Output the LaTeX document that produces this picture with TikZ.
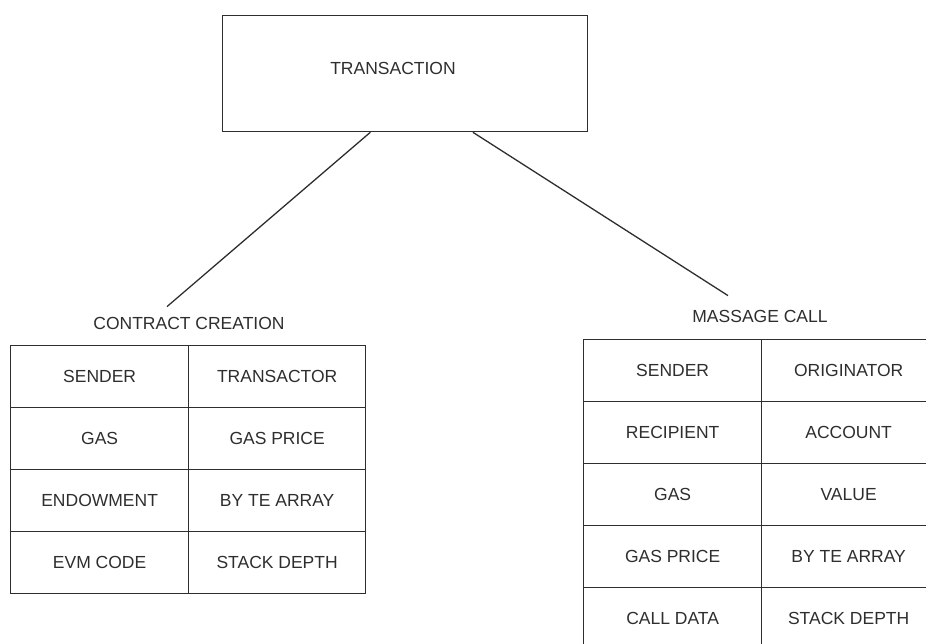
\documentclass[tikz,border=0pt]{standalone}
\usepackage{fontspec}
\setmainfont{Liberation Sans}
\usetikzlibrary{calc}
\definecolor{ink}{HTML}{2E2E2E}
\begin{document}
\begin{tikzpicture}[x=1pt,y=-1pt,
  lbl/.style={text=ink,font=\fontsize{17.5}{20}\selectfont,inner sep=0pt},
  cellA/.style={draw=ink,line width=1.3pt,rectangle,minimum width=178pt,minimum height=62pt,inner sep=0pt,text=ink,font=\fontsize{17.5}{20}\selectfont,anchor=north west},
  link/.style={draw=ink,line width=1.3pt}]
\useasboundingbox (0,0) rectangle (926,644);
\clip (0,0) rectangle (926,644);
% top box
\node[draw=ink,line width=1.3pt,minimum width=365pt,minimum height=116pt,anchor=north west,inner sep=0pt] (tx) at (222,15) {};
\node[lbl] (txl) at (393,68) {TRANSACTION};
% titles
\node[lbl] (cc) at (189,323) {CONTRACT CREATION};
\node[lbl] (mc) at (760,316) {MASSAGE CALL};
% left table
\foreach \r/\b [count=\i from 0] in {SENDER/TRANSACTOR,GAS/GAS PRICE,ENDOWMENT/BY TE ARRAY,EVM CODE/STACK DEPTH}{
  \node[cellA] (L\i a) at (10,345+62*\i) {\r};
  \node[cellA,minimum width=177pt] (L\i b) at (188,345+62*\i) {\b};
}
% right table
\foreach \r/\b [count=\i from 0] in {SENDER/ORIGINATOR,RECIPIENT/ACCOUNT,GAS/VALUE,GAS PRICE/BY TE ARRAY,CALL DATA/STACK DEPTH}{
  \node[cellA] (R\i a) at (583,339+62*\i) {\r};
  \node[cellA,minimum width=174pt] (R\i b) at (761,339+62*\i) {\b};
}
% connectors
\coordinate (ccend) at ($(cc.north)+(-22,-10)$);
\coordinate (mcend) at ($(mc.north)+(-32,-14)$);
\draw[link] ($(tx.south west)!0.405!(tx.south east)$) -- (ccend);
\draw[link] ($(tx.south west)!0.685!(tx.south east)$) -- (mcend);
\end{tikzpicture}
\end{document}
